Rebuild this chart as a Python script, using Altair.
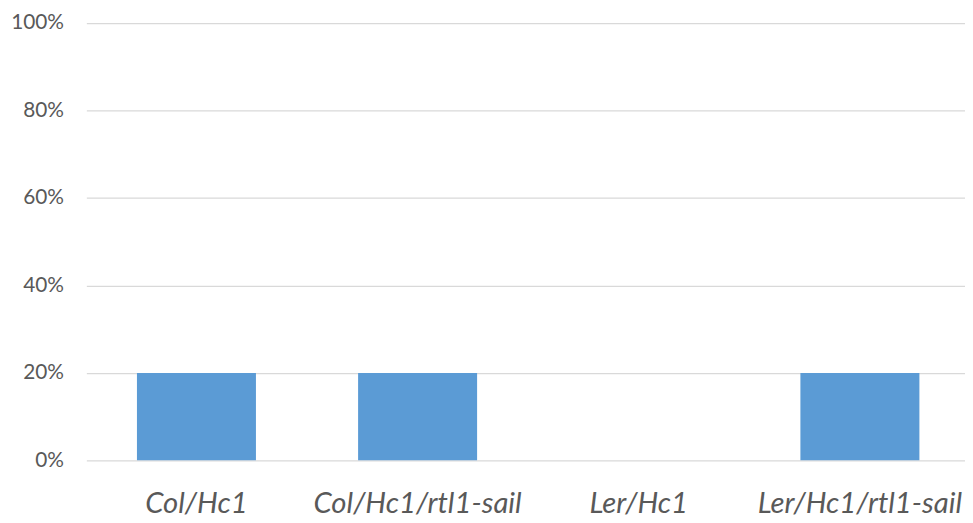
import altair as alt
import pandas as pd

categories = ["Col/Hc1", "Col/Hc1/rtl1-sail", "Ler/Hc1", "Ler/Hc1/rtl1-sail"]
values = [0.20, 0.20, 0.0, 0.20]

df = pd.DataFrame({"cat": categories, "val": values})

chart = alt.Chart(df).mark_bar(color="#5B9BD5").encode(
    x=alt.X("cat:N", sort=categories, title=None,
            scale=alt.Scale(paddingInner=0.4619, paddingOuter=0.2175, align=0.526),
            axis=alt.Axis(labelAngle=0, labelFont="Lato", labelFontSize=29.5,
                          labelFontStyle="italic", labelColor="#595959",
                          ticks=False, domain=False, labelPadding=30,
                          labelBaseline="top", labelOverlap=False, labelLimit=0)),
    y=alt.Y("val:Q", title=None,
            scale=alt.Scale(domain=[0, 1], nice=False),
            axis=alt.Axis(format=".0%", values=[0, 0.2, 0.4, 0.6, 0.8, 1.0],
                          labelFont="Lato", labelFontSize=21, labelColor="#595959",
                          ticks=False, domain=False, labelPadding=23,
                          gridColor="#D9D9D9", gridWidth=1.3)),
).properties(
    width=886, height=441,
    autosize=alt.AutoSizeParams(type="none"),
    padding={"left": 79, "top": 13, "right": 0, "bottom": 61},
).configure_view(stroke=None)

chart.save("out.html", embed_options={"renderer": "svg", "actions": False})
